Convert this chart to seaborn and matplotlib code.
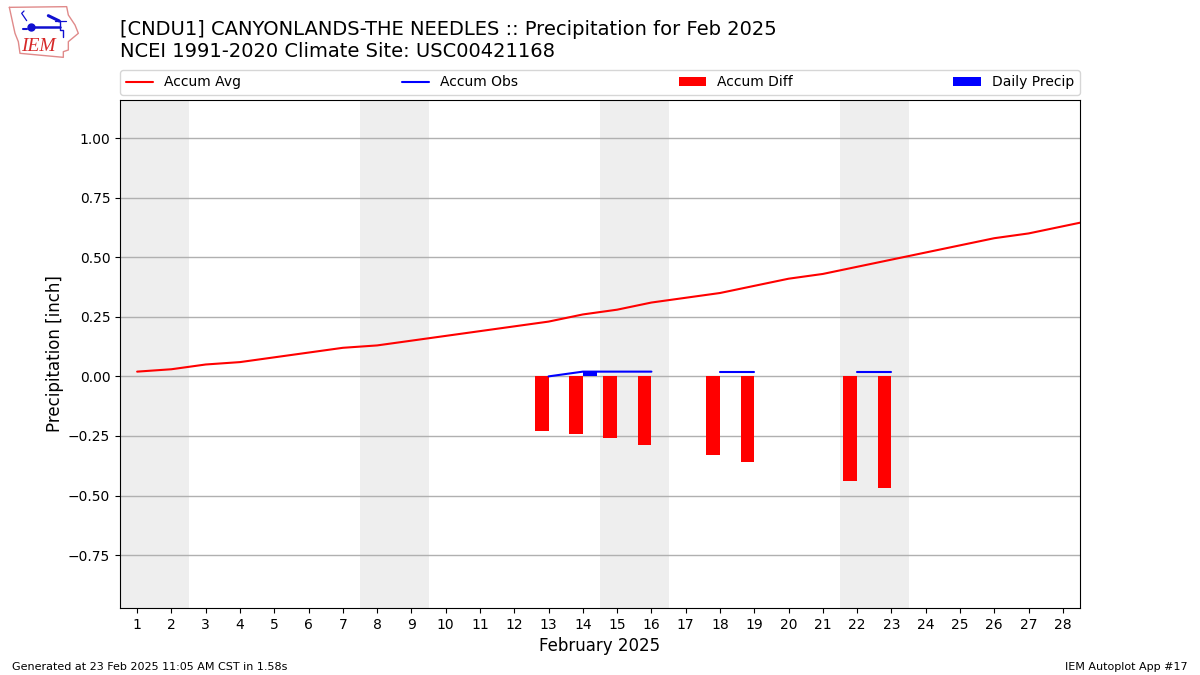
"""IEM autoplot 17 style monthly precipitation chart."""

import matplotlib

matplotlib.use("Agg")
import matplotlib.pyplot as plt
import numpy as np
import pandas as pd
import seaborn as sns

# accumulated climatology runs one day past the month, the axis clips it
avg_days = list(range(1, 30))
accum_avg = [
    0.02, 0.03, 0.05, 0.06, 0.08, 0.10, 0.12, 0.13, 0.15, 0.17,
    0.19, 0.21, 0.23, 0.26, 0.28, 0.31, 0.33, 0.35, 0.38, 0.41,
    0.43, 0.46, 0.49, 0.52, 0.55, 0.58, 0.60, 0.63, 0.66,
]
obs_days = [13, 14, 15, 16, 18, 19, 22, 23]
obs_segment = [0, 0, 0, 0, 1, 1, 2, 2]
accum_obs = [0.00, 0.02, 0.02, 0.02, 0.02, 0.02, 0.02, 0.02]
accum_diff = [-0.23, -0.24, -0.26, -0.29, -0.33, -0.36, -0.44, -0.47]
precip_days = [14]
daily_precip = [0.02]
weekend_spans = [(0.5, 2.5), (7.5, 9.5), (14.5, 16.5), (21.5, 23.5)]
y_ticks = [-0.75, -0.50, -0.25, 0.00, 0.25, 0.50, 0.75, 1.00]
x_ticks = list(range(1, 29))

BAR_WIDTH = 0.4

sns.set_theme(
    style="ticks",
    font="DejaVu Sans",
    rc={
        "axes.linewidth": 0.8,
        "axes.labelsize": 12,
        "axes.edgecolor": "black",
        "axes.labelcolor": "black",
        "text.color": "black",
        "xtick.color": "black",
        "ytick.color": "black",
        "xtick.labelsize": 10,
        "ytick.labelsize": 10,
        "xtick.major.size": 3.5,
        "ytick.major.size": 3.5,
        "xtick.major.width": 0.8,
        "ytick.major.width": 0.8,
        "legend.fontsize": 10,
        "lines.linewidth": 1.5,
        "grid.color": "#b0b0b0",
        "grid.linewidth": 1.0,
    },
)


def draw_logo(fig):
    # rough sketch of the IEM badge, coordinates in logo pixels
    logo = fig.add_axes([0, 1 - 60 / 675, 80 / 1200, 60 / 675])
    logo.set_xlim(0, 240)
    logo.set_ylim(180, 0)
    logo.axis("off")
    outline_x = [28, 200, 205, 225, 235, 205, 205, 190, 190, 60, 55, 45, 28]
    outline_y = [22, 20, 45, 75, 100, 125, 150, 155, 172, 160, 125, 100, 22]
    logo.plot(outline_x, outline_y, color="#e08a8a", lw=1)
    logo.plot([95, 180], [80, 80], color="#1010d0", lw=1.8)
    logo.plot([92], [80], "o", color="#1010d0", ms=5)
    logo.plot([80, 65, 72], [62, 40, 33], color="#1010d0", lw=0.9)
    logo.plot([145, 178], [47, 63], color="#1010d0", lw=2.2)
    logo.plot([165, 198], [63, 63], color="#1010d0", lw=0.9)
    logo.plot([180, 180, 190, 190], [63, 90, 90, 112], color="#1010d0", lw=1)
    logo.plot([70, 80], [86, 86], color="#1010d0", lw=1.5)
    logo.text(62, 154, "IEM", color="#d62828", fontsize=14, style="italic",
              family="Liberation Serif")


fig = plt.figure(figsize=(12, 6.75), dpi=100)
ax = fig.add_axes([0.1, 67 / 675, 0.8, 508 / 675])

for left, right in weekend_spans:
    ax.axvspan(left, right, color="#eeeeee", lw=0, zorder=0)

sns.lineplot(x=avg_days, y=accum_avg, color="red", label="Accum Avg", ax=ax)

obs_frame = pd.DataFrame({"day": obs_days, "obs": accum_obs, "segment": obs_segment})
sns.lineplot(
    data=obs_frame, x="day", y="obs", units="segment", estimator=None,
    color="blue", label="Accum Obs", ax=ax,
)

# bars sit either side of the day tick: difference to the left, daily to the right
sns.barplot(
    x=np.array(obs_days) - BAR_WIDTH / 2, y=accum_diff, native_scale=True, orient="x",
    width=BAR_WIDTH, color="red", saturation=1, errorbar=None, label="Accum Diff",
    linewidth=0, ax=ax,
)
sns.barplot(
    x=np.array(precip_days) + BAR_WIDTH / 2, y=daily_precip, native_scale=True, orient="x",
    width=BAR_WIDTH, color="blue", saturation=1, errorbar=None, label="Daily Precip",
    linewidth=0, ax=ax,
)

ax.set_xlim(0.5, 28.5)
ax.set_ylim(-0.972, 1.16)
ax.set_xticks(x_ticks)
ax.set_xticklabels([str(d) for d in x_ticks])
ax.set_yticks(y_ticks)
ax.set_yticklabels([f"{v:.2f}".replace("-", "\u2212") for v in y_ticks])
ax.set_axisbelow(True)
ax.yaxis.grid(True)
ax.xaxis.grid(False)
ax.set_xlabel("February 2025")
ax.set_ylabel("Precipitation [inch]", labelpad=3)

# the obs line has one handle per segment, keep only the first
handles, labels = ax.get_legend_handles_labels()
unique = dict(zip(reversed(labels), reversed(handles)))
order = ["Accum Avg", "Accum Obs", "Accum Diff", "Daily Precip"]
ax.legend(
    [unique[name] for name in order], order, loc="lower left",
    bbox_to_anchor=(0, 1.0098, 1, 0.05), mode="expand", ncol=4, borderaxespad=0,
    frameon=True, edgecolor="0.8", framealpha=0.8, fancybox=True,
)

fig.text(0.1, 0.91, "[CNDU1] CANYONLANDS-THE NEEDLES :: Precipitation for Feb 2025\n"
         "NCEI 1991-2020 Climate Site: USC00421168", fontsize=14, ha="left", va="bottom")
fig.text(0.01, 0.007, "Generated at 23 Feb 2025 11:05 AM CST in 1.58s", fontsize=8)
fig.text(0.99, 0.007, "IEM Autoplot App #17", fontsize=8, ha="right")

draw_logo(fig)

fig.savefig("out.png", dpi=100)
